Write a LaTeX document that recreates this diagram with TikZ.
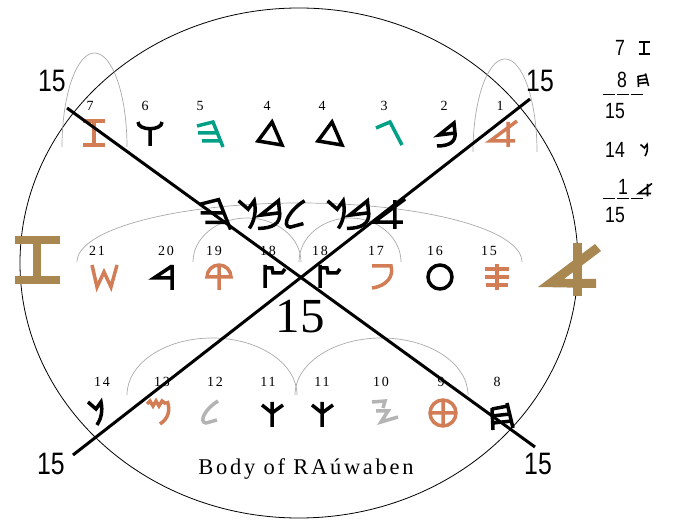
\documentclass[tikz,border=0pt]{standalone}
\usepackage{fontspec}
\setmainfont{Liberation Serif}
\newfontfamily\numfont[FakeStretch=0.8]{Liberation Sans}
\newfontfamily\idxfont[LetterSpace=12]{Liberation Serif}
\newfontfamily\capfont[LetterSpace=12]{Liberation Serif}
\usetikzlibrary{positioning}
\definecolor{clay}{HTML}{D27D55}
\definecolor{jade}{HTML}{00A087}
\definecolor{ochre}{HTML}{A88850}
\definecolor{ash}{HTML}{B4B4B4}
\definecolor{arcgray}{HTML}{AAAAAA}
\tikzset{
  glyph/.style={line width=3.5pt, line cap=butt, line join=miter},
  idx/.style={inner sep=0pt, font=\fontsize{14}{14}\idxfont},
  corner/.style={inner sep=0pt, font=\fontsize{31}{31}\numfont},
  tally/.style={inner sep=0pt, font=\fontsize{22}{22}\numfont},
  arcline/.style={draw=arcgray, line width=0.7pt},
  crossline/.style={line width=3pt},
  small/.style={scale=0.5, glyph/.append style={line width=1.6pt}},
  % Phoenician letters, drawn round their centre
  pics/aleph/.style={code={\draw[glyph] (14,-13) -- (-13,7) -- (12,7) (5,-12) -- (5,13);}},
  pics/bet/.style={code={\draw[glyph] (8,-1) -- (-8,1) -- (7,-11) -- cycle;
                         \draw[glyph] (8,-1) .. controls (9,8) and (2,12) .. (-10,12);}},
  pics/gimel/.style={code={\draw[glyph] (-14,-5) -- (0,-11) -- (12,12);}},
  pics/dalet/.style={code={\draw[glyph] (2,-11) -- (-12,8) -- (12,12) -- cycle;}},
  pics/he/.style={code={\draw[glyph] (-13,-8) -- (3,-12) -- (13,13) (-12,-1) -- (7,-1) (-8,7) -- (10,7);}},
  pics/waw/.style={code={\draw[glyph] (-12,-12) .. controls (-12,-3) and (12,-3) .. (12,-12) (0,-5) -- (0,12);}},
  pics/zayin/.style={code={\draw[glyph] (-11,-12) -- (11,-12) (0,-12) -- (0,12) (-11,12) -- (11,12);}},
  pics/het/.style={code={\draw[glyph] (-10,-8) -- (-9,14) (5,-13) -- (11,12)
                         (-10,-7) -- (6,-10) (-10,0) -- (8,-2) (-9,7) -- (10,5);}},
  pics/tet/.style={code={\draw[glyph] (0,0) circle[radius=13] (-13,0) -- (13,0) (0,-13) -- (0,13);}},
  pics/yod/.style={code={\draw[glyph] (-13,-11) -- (0,-12) -- (-2,-5) (-9,-2) -- (3,-2) -- (-4,9) -- (13,4);}},
  pics/kaf/.style={code={\draw[glyph] (-10,-9) -- (0,-1) -- (11,-9) (0,-12) -- (0,13);}},
  pics/lamed/.style={code={\draw[glyph] (8,-11) .. controls (-4,-4) and (-12,10) .. (-4,11) -- (7,8);}},
  pics/mem/.style={code={\draw[glyph] (-11,-9) -- (-8,-12) -- (-5,-7) -- (-2,-12) -- (1,-7) -- (4,-12) -- (8,-9)
                         (9,-12) .. controls (13,-3) and (10,6) .. (2,11);}},
  pics/nun/.style={code={\draw[glyph] (-7,-11) -- (1,-4) -- (6,-11) .. controls (8,-2) and (6,6) .. (2,12);}},
  pics/samekh/.style={code={\draw[glyph] (0,-13) -- (0,13) (-12,-8) -- (12,-8) (-12,0) -- (12,0) (-11,8) -- (11,8);}},
  pics/ayin/.style={code={\draw[glyph] (0,0) circle[radius=12];}},
  pics/pe/.style={code={\draw[glyph] (-10,-11) -- (9,-11) .. controls (12,-1) and (5,9) .. (-10,11);}},
  pics/sade/.style={code={\draw[glyph] (-8,-12) -- (-8,11) (-8,-9) -- (-1,-9) -- (0,-4) -- (9,-4) -- (12,-8);}},
  pics/qof/.style={code={\draw[glyph] (-12,0) arc[start angle=180, end angle=360, radius=12] -- cycle (0,-12) -- (0,13);}},
  pics/resh/.style={code={\draw[glyph] (7,-12) -- (7,13) (7,-11) -- (-11,1) -- (7,1);}},
  pics/shin/.style={code={\draw[glyph] (-12,-12) -- (-7,10) -- (0,-5) -- (7,10) -- (13,-12);}},
}
\begin{document}
\begin{tikzpicture}[x=1pt,y=-1pt]
\useasboundingbox (0,0) rectangle (678,529);
\draw[line width=0.8pt] (299,263) ellipse[x radius=279, y radius=255];

% arches
\draw[arcline] (62,147) arc[start angle=180, end angle=360, x radius=32.5, y radius=94];
\draw[arcline] (473,152) arc[start angle=180, end angle=360, x radius=32, y radius=93];
\draw[arcline] (77,262) arc[start angle=180, end angle=360, x radius=222.5, y radius=59];
\draw[arcline] (193,262) arc[start angle=180, end angle=360, x radius=54, y radius=44];
\draw[arcline] (299,262) arc[start angle=180, end angle=360, x radius=51, y radius=44];
\draw[arcline] (127,395) arc[start angle=180, end angle=360, x radius=85, y radius=57];
\draw[arcline] (295,395) arc[start angle=180, end angle=360, x radius=86.5, y radius=57];

% top row
\node[idx] (t7) at (90,106) {7};   \pic[clay] at (94,133) {zayin};
\node[idx] (t6) at (145,106) {6};  \pic at (150,134) {waw};
\node[idx] (t5) at (200,106) {5};  \pic[jade] at (210,134) {he};
\node[idx] (t4) at (267,106) {4};  \pic at (270,133) {dalet};
\node[idx] (t4b) at (322,106) {4}; \pic at (330,133) {dalet};
\node[idx] (t3) at (384,106) {3};  \pic[jade] at (390,133) {gimel};
\node[idx] (t2) at (444,106) {2};  \pic at (447,134) {bet};
\node[idx] (t1) at (500,106) {1};  \pic[clay] at (503,134) {aleph};

% middle row
\node[idx] (m21) at (97,251) {21};  \pic[clay] at (104,277) {shin};
\node[idx] (m20) at (166,251) {20}; \pic at (165,277) {resh};
\node[idx] (m19) at (214,251) {19}; \pic[clay] at (219,277) {qof};
\node[idx] (m18) at (268,251) {18}; \pic at (273,277) {sade};
\node[idx] (m18b) at (320,251) {18};\pic at (328,277) {sade};
\node[idx] (m17) at (376,251) {17}; \pic[clay] at (382,277) {pe};
\node[idx] (m16) at (435,251) {16}; \pic at (440,277) {ayin};
\node[idx] (m15) at (489,251) {15}; \pic[clay] at (497,277) {samekh};

% bottom row
\node[idx] (b14) at (102,382) {14}; \pic at (95,413) {nun};
\node[idx] (b13) at (162,382) {13}; \pic[clay] at (158,413) {mem};
\node[idx] (b12) at (215,382) {12}; \pic[ash] at (210,412) {lamed};
\node[idx] (b11) at (268,382) {11}; \pic at (272,414) {kaf};
\node[idx] (b11b) at (322,382) {11};\pic at (322,414) {kaf};
\node[idx] (b10) at (381,382) {10}; \pic[ash] at (385,413) {yod};
\node[idx] (b9) at (441,382) {9};   \pic[clay] at (443,413) {tet};
\node[idx] (b8) at (497,382) {8};   \pic at (502,416) {het};

% the word across the middle
\pic[scale=1.2] at (215,214) {he};
\pic[scale=1.2] at (247,214) {nun};
\pic[scale=1.2] at (270,214) {bet};
\pic[scale=1.2] at (295,214) {lamed};
\pic[scale=1.2] at (336,214) {nun};
\pic[scale=1.2] at (359,214) {bet};
\pic[scale=1.15] at (389,214) {aleph};

% big side letters
\draw[ochre, line width=8pt] (15,240) -- (60,240) (15,280) -- (60,280) (37,240) -- (37,280);
\fill[ochre] (538,287) -- (595,244) -- (601,251) -- (564,279) -- (596,279) -- (596,288) -- cycle;
\draw[ochre, line width=9pt] (577,243) -- (577,296);

% the cross
\coordinate (ul) at (67,108);
\coordinate (lr) at (535,447);
\coordinate (ll) at (73,455);
\coordinate (ur) at (530,99);
\draw[crossline] (ul) -- (lr);
\draw[crossline] (ll) -- (ur);
\node[corner] (c1) at (52,81) {15};
\node[corner] (c2) at (540,81) {15};
\node[corner] (c3) at (51,464) {15};
\node[corner] (c4) at (538,464) {15};
\node[inner sep=0pt, font=\fontsize{49}{49}\selectfont] (sum) at (300,317) {15};

\node[anchor=base, inner sep=0pt, font=\fontsize{22.5}{22.5}\capfont] (title) at (306,475) {Body of RAúwaben};

% tallies on the right
\node[tally] (r7) at (620,48) {7};   \pic[small] at (644,48) {zayin};
\node[tally] (r8) at (622,80) {8};   \pic[small] at (643,80) {het};
\draw[line width=0.8pt] (603,94) -- (615,94) (617,94) -- (629,94) (631,94) -- (643,94);
\node[tally] (r15) at (615,111) {15};
\node[tally] (r14) at (615,150) {14}; \pic[small] at (644,150) {nun};
\node[tally] (r1) at (623,187) {1};   \pic[small] at (645,190) {aleph};
\draw[line width=0.8pt] (603,198) -- (615,198) (617,198) -- (629,198) (631,198) -- (643,198);
\node[tally] (r15b) at (615,215) {15};
\end{tikzpicture}
\end{document}
